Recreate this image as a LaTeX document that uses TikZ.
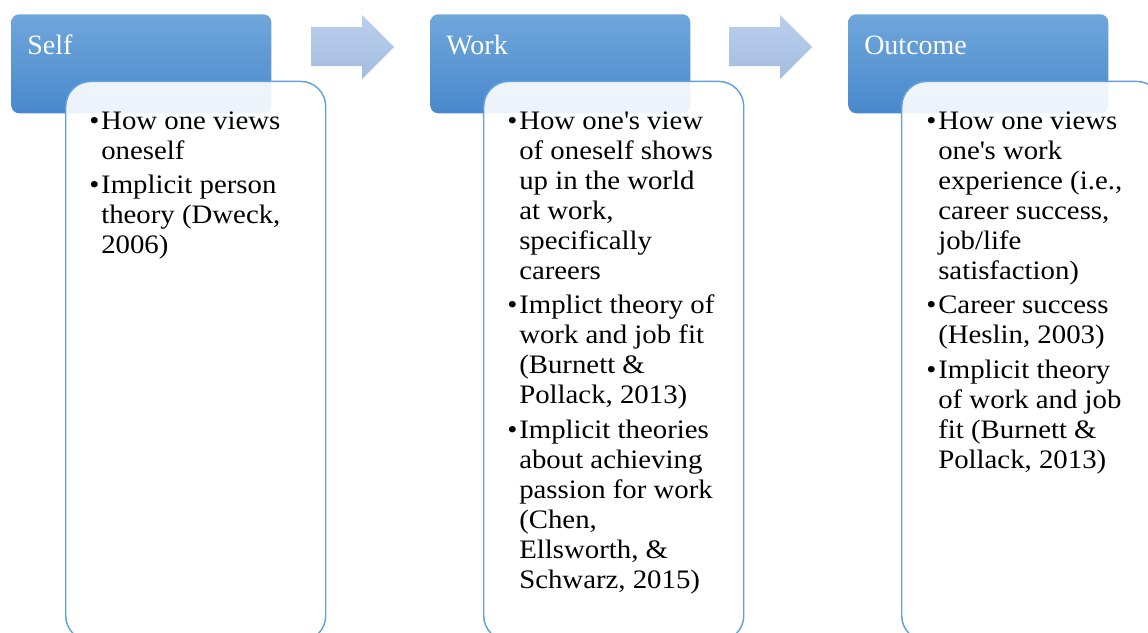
\documentclass[tikz,border=0pt]{standalone}
\usepackage{fontspec}
\setmainfont[FakeStretch=1.08]{Liberation Serif}
\newfontfamily\hdrfont{Liberation Serif}
\definecolor{hdrtop}{RGB}{112,167,219}
\definecolor{hdrmid}{RGB}{80,151,215}
\definecolor{hdrbot}{RGB}{72,136,204}
\definecolor{arrtop}{RGB}{187,207,235}
\definecolor{arrbot}{RGB}{163,189,225}
\definecolor{boxline}{RGB}{100,160,218}
\newcommand\bul{\makebox[9pt][l]{•}}
\newcommand\apos{\textquotesingle}
\begin{document}
\begin{tikzpicture}[x=0.75pt,y=-0.75pt,
  hdr/.style={rounded corners=6pt, top color=hdrtop, middle color=hdrmid, bottom color=hdrbot,
    minimum width=195pt, minimum height=74.25pt, inner sep=0pt, anchor=north west},
  tbox/.style={draw=boxline, line width=1.1pt, fill=white, fill opacity=0.9,
    rounded corners=18.75pt, minimum width=195pt, minimum height=419.5pt, inner sep=0pt, anchor=north west},
  hlab/.style={text=white, font=\hdrfont\fontsize{21}{25}\selectfont, inner sep=0pt, anchor=base west},
  btext/.style={text=black, inner sep=0pt, anchor=base west, font=\fontsize{20}{22.5}\selectfont},
  arr/.style={top color=arrtop, bottom color=arrbot, draw=none}]
\clip (0,0) rectangle (1148,632);
% Self
\node[hdr] (h1) at (11,14) {};
\node[hlab] (l1) at (27,54) {Self};
\node[tbox] (b1) at (65,80.7) {};
\node[btext] (t1) at (89,129) {\begin{tabular}[t]{@{}l@{}l@{}}
\bul & How one views\\
 & oneself\\[3.4pt]
\bul & Implicit person\\
 & theory (Dweck,\\
 & 2006)
\end{tabular}};
% Work
\node[hdr] (h2) at (430,14) {};
\node[hlab] (l2) at (446,54) {Work};
\node[tbox] (b2) at (483,80.7) {};
\node[btext] (t2) at (507,129) {\begin{tabular}[t]{@{}l@{}l@{}}
\bul & How one\apos s view\\
 & of oneself shows\\
 & up in the world\\
 & at work,\\
 & specifically\\
 & careers\\[3.4pt]
\bul & Implict theory of\\
 & work and job fit\\
 & (Burnett \&\\
 & Pollack, 2013)\\[3.4pt]
\bul & Implicit theories\\
 & about achieving\\
 & passion for work\\
 & (Chen,\\
 & Ellsworth, \&\\
 & Schwarz, 2015)
\end{tabular}};
% Outcome
\node[hdr] (h3) at (848,14) {};
\node[hlab] (l3) at (864,54) {Outcome};
\node[tbox] (b3) at (901,80.7) {};
\node[btext] (t3) at (926,129) {\begin{tabular}[t]{@{}l@{}l@{}}
\bul & How one views\\
 & one\apos s work\\
 & experience (i.e.,\\
 & career success,\\
 & job/life\\
 & satisfaction)\\[3.4pt]
\bul & Career success\\
 & (Heslin, 2003)\\[3.4pt]
\bul & Implicit theory\\
 & of work and job\\
 & fit (Burnett \&\\
 & Pollack, 2013)
\end{tabular}};
% arrows
\shade[arr] (311,27) -- (362,27) -- (362,15) -- (394,47) -- (362,79) -- (362,66) -- (311,66) -- cycle;
\shade[arr] (729,27) -- (780,27) -- (780,15) -- (812,47) -- (780,79) -- (780,66) -- (729,66) -- cycle;
\end{tikzpicture}
\end{document}
